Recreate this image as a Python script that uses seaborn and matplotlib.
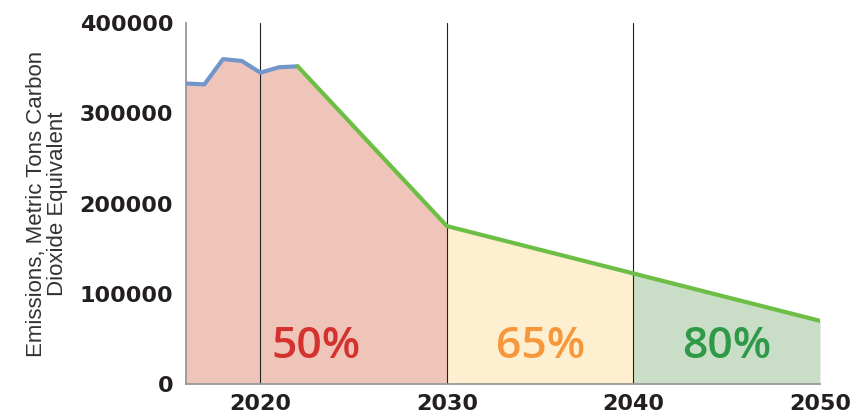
import seaborn as sns
import pandas as pd
import matplotlib.pyplot as plt

# historical emissions
hist_years = [2016, 2017, 2018, 2019, 2020, 2021, 2022]
hist_values = [333000, 332000, 360000, 358000, 345000, 351000, 352000]

# target pathway
target_years = [2022, 2030, 2040, 2050]
target_values = [352000, 175000, 122500, 70000]

period_labels = ['50%', '65%', '80%']
period_bounds = [(2016, 2030), (2030, 2040), (2040, 2050)]
period_fill = ['#F0C5B9', '#FDEFCF', '#CADDC6']
period_text = ['#D3322F', '#F7973B', '#2E9A48']

hist = pd.DataFrame({'year': hist_years, 'value': hist_values})
target = pd.DataFrame({'year': target_years, 'value': target_values})
full = pd.concat([hist.iloc[:-1], target]).reset_index(drop=True)

sns.set_style('white')
plt.rcParams['font.family'] = ['Liberation Sans', 'DejaVu Sans']

fig, ax = plt.subplots(figsize=(8.61, 4.17), dpi=100)
fig.subplots_adjust(left=0.2157, right=0.9524, bottom=0.0791, top=0.9448)

for (x0, x1), col in zip(period_bounds, period_fill):
    part = full[(full.year >= x0) & (full.year <= x1)]
    ax.fill_between(part.year, 0, part.value, color=col, lw=0, zorder=1)

for x in [2020, 2030, 2040]:
    ax.axvline(x, color='#222222', lw=0.8, zorder=2)

sns.lineplot(data=hist, x='year', y='value', color='#7396CA', lw=3, ax=ax, zorder=3)
sns.lineplot(data=target, x='year', y='value', color='#6CBE45', lw=3, ax=ax, zorder=3)

for (x0, x1), lab, col in zip(period_bounds, period_labels, period_text):
    ax.text((x0 + x1) / 2, 29000, lab, color=col, fontsize=32, family='Open Sans',
            fontweight='semibold', ha='center', va='baseline', zorder=4)

ax.set_xlim(2016, 2050)
ax.set_ylim(0, 400000)
ax.set_xticks([2020, 2030, 2040, 2050])
ax.set_yticks([0, 100000, 200000, 300000, 400000])
ax.set_yticklabels(['0', '100000', '200000', '300000', '400000'])
ax.tick_params(axis='y', direction='in', length=10, width=1, color='#222222', pad=9)
ax.tick_params(axis='x', length=0, pad=7)
for lab in ax.get_xticklabels() + ax.get_yticklabels():
    lab.set_family('DejaVu Sans')
    lab.set_fontsize(16)
    lab.set_fontweight('bold')
    lab.set_color('#231F20')

ax.set_xlabel('')
ax.set_ylabel('Emissions, Metric Tons Carbon\nDioxide Equivalent', fontsize=16,
              color='#333333', labelpad=8, linespacing=1.05,
              multialignment='center')

for s in ['top', 'right']:
    ax.spines[s].set_visible(False)
for s in ['left', 'bottom']:
    ax.spines[s].set_color('#999999')
    ax.spines[s].set_linewidth(1.3)

fig.savefig('out.png', dpi=100)
